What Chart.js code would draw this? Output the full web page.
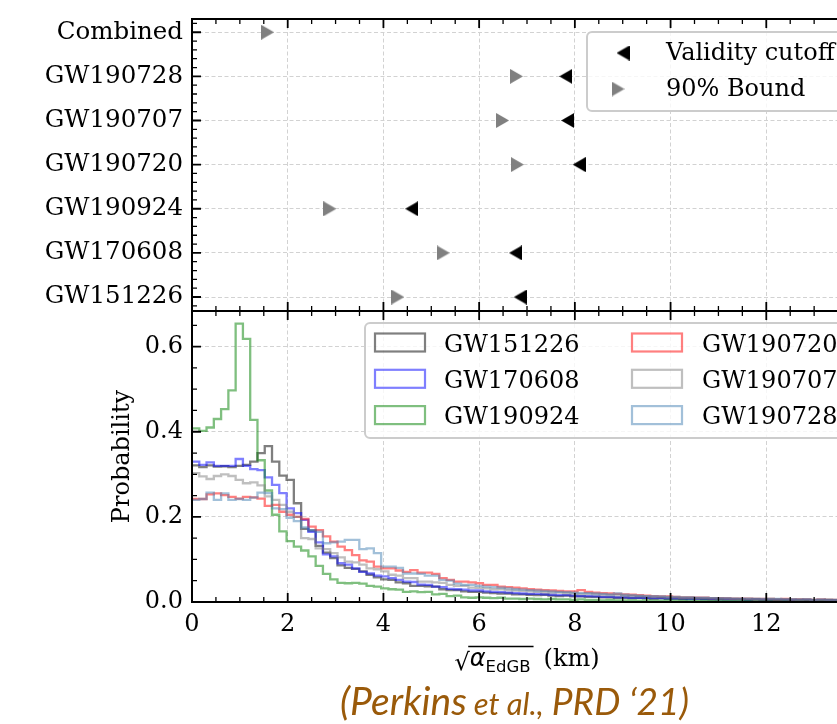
<!DOCTYPE html>
<html>
<head>
<meta charset="utf-8">
<script src="https://cdn.jsdelivr.net/npm/chart.js@4.4.0/dist/chart.umd.min.js"></script>
<style>
  html, body { margin: 0; padding: 0; overflow: hidden; background: #fff; }
  #wrap { position: relative; width: 837px; height: 724px; overflow: hidden; }
  canvas { position: absolute; left: 0; }
  #top { top: 0; }
  #bottom { top: 300px; }
</style>
</head>
<body>
<div id="wrap">
  <canvas id="top" width="900" height="320"></canvas>
  <canvas id="bottom" width="900" height="424"></canvas>
</div>
<script>
// events, bottom to top in the upper panel
const events = ['GW151226', 'GW170608', 'GW190924', 'GW190720', 'GW190707', 'GW190728', 'Combined'];
const validityCutoff = [6.86, 6.76, 4.59, 8.09, 7.85, 7.81, null];
const bound90 = [4.30, 5.25, 2.88, 6.80, 6.49, 6.78, 1.58];

const xTicks = [0, 2, 4, 6, 8, 10, 12, 14];
const probTicks = [0, 0.2, 0.4, 0.6];

// histogram bins (width in km), values per bin
const binWidth = 0.152;
const histNames = ['GW151226', 'GW170608', 'GW190924', 'GW190720', 'GW190707', 'GW190728'];
const histColors = ['rgba(0,0,0,0.5)', 'rgba(0,0,255,0.5)', 'rgba(0,128,0,0.5)',
                    'rgba(255,0,0,0.5)', 'rgba(128,128,128,0.5)', 'rgba(70,130,180,0.5)'];

const gw151226 = [
  0.321, 0.317, 0.321, 0.318, 0.319, 0.317, 0.320, 0.322, 0.330, 0.350,
  0.366, 0.330, 0.297, 0.287, 0.232, 0.172, 0.168, 0.132, 0.116, 0.103,
  0.086, 0.080, 0.078, 0.072, 0.064, 0.058, 0.053, 0.052, 0.046, 0.044,
  0.038, 0.038, 0.037, 0.036, 0.030, 0.028, 0.028, 0.025, 0.024, 0.024,
  0.022, 0.021, 0.020, 0.020, 0.018, 0.018, 0.017, 0.016, 0.017, 0.015,
  0.014, 0.015, 0.013, 0.013, 0.012, 0.012, 0.011, 0.011, 0.010, 0.010,
  0.009, 0.010, 0.009, 0.008, 0.009, 0.008, 0.008, 0.007, 0.008, 0.007,
  0.007, 0.006, 0.007, 0.006, 0.006, 0.006, 0.005, 0.006, 0.005, 0.005,
  0.005, 0.005, 0.004, 0.005, 0.004, 0.004, 0.004, 0.005, 0.004, 0.004, 0.003, 0.004
];
const gw170608 = [
  0.330, 0.322, 0.328, 0.320, 0.320, 0.320, 0.336, 0.320, 0.312, 0.310,
  0.293, 0.275, 0.256, 0.220, 0.209, 0.193, 0.165, 0.140, 0.112, 0.107,
  0.091, 0.088, 0.079, 0.071, 0.067, 0.062, 0.060, 0.056, 0.052, 0.048,
  0.047, 0.041, 0.040, 0.036, 0.035, 0.031, 0.030, 0.029, 0.027, 0.027,
  0.025, 0.024, 0.023, 0.022, 0.021, 0.020, 0.019, 0.019, 0.018, 0.017,
  0.016, 0.016, 0.015, 0.014, 0.014, 0.013, 0.012, 0.012, 0.011, 0.011,
  0.010, 0.010, 0.010, 0.009, 0.009, 0.008, 0.008, 0.008, 0.007, 0.008,
  0.007, 0.007, 0.006, 0.006, 0.006, 0.006, 0.005, 0.006, 0.005, 0.005,
  0.005, 0.005, 0.005, 0.004, 0.005, 0.004, 0.004, 0.004, 0.004, 0.003, 0.004, 0.003
];
const gw190924 = [
  0.408, 0.402, 0.410, 0.430, 0.453, 0.497, 0.654, 0.618, 0.428, 0.333,
  0.262, 0.205, 0.166, 0.143, 0.130, 0.121, 0.107, 0.085, 0.066, 0.053,
  0.045, 0.044, 0.045, 0.043, 0.038, 0.036, 0.032, 0.030, 0.029, 0.024,
  0.025, 0.023, 0.024, 0.018, 0.019, 0.014, 0.015, 0.011, 0.010, 0.011,
  0.010, 0.009, 0.010, 0.008, 0.008, 0.007, 0.008, 0.007, 0.006, 0.007,
  0.006, 0.006, 0.005, 0.006, 0.005, 0.005, 0.004, 0.005, 0.004, 0.004,
  0.004, 0.003, 0.004, 0.003, 0.003, 0.004, 0.003, 0.003, 0.003, 0.002,
  0.003, 0.002, 0.003, 0.002, 0.002, 0.003, 0.002, 0.002, 0.002, 0.002,
  0.002, 0.002, 0.001, 0.002, 0.002, 0.001, 0.002, 0.001, 0.001, 0.002, 0.001, 0.001
];
const gw190720 = [
  0.242, 0.242, 0.253, 0.255, 0.251, 0.247, 0.243, 0.247, 0.246, 0.243,
  0.226, 0.228, 0.212, 0.205, 0.200, 0.195, 0.177, 0.169, 0.154, 0.142,
  0.130, 0.122, 0.110, 0.098, 0.095, 0.083, 0.079, 0.079, 0.074, 0.071,
  0.075, 0.069, 0.069, 0.066, 0.056, 0.052, 0.048, 0.048, 0.046, 0.044,
  0.040, 0.040, 0.036, 0.035, 0.034, 0.032, 0.030, 0.029, 0.028, 0.027,
  0.026, 0.025, 0.025, 0.028, 0.024, 0.022, 0.021, 0.020, 0.019, 0.018,
  0.017, 0.016, 0.015, 0.014, 0.013, 0.013, 0.012, 0.011, 0.011, 0.010,
  0.010, 0.009, 0.009, 0.009, 0.008, 0.008, 0.008, 0.007, 0.007, 0.007,
  0.006, 0.007, 0.006, 0.006, 0.006, 0.005, 0.006, 0.005, 0.005, 0.005, 0.004, 0.005
];
const gw190707 = [
  0.303, 0.295, 0.289, 0.296, 0.300, 0.296, 0.287, 0.279, 0.281, 0.274,
  0.248, 0.240, 0.228, 0.212, 0.200, 0.150, 0.148, 0.126, 0.124, 0.115,
  0.105, 0.095, 0.093, 0.088, 0.079, 0.077, 0.072, 0.064, 0.062, 0.056,
  0.056, 0.048, 0.048, 0.046, 0.045, 0.040, 0.038, 0.038, 0.034, 0.033,
  0.032, 0.030, 0.030, 0.028, 0.027, 0.026, 0.025, 0.024, 0.023, 0.022,
  0.022, 0.021, 0.020, 0.019, 0.019, 0.018, 0.017, 0.016, 0.016, 0.015,
  0.014, 0.014, 0.013, 0.012, 0.012, 0.011, 0.011, 0.010, 0.010, 0.009,
  0.009, 0.009, 0.008, 0.008, 0.008, 0.007, 0.007, 0.007, 0.006, 0.007,
  0.006, 0.006, 0.006, 0.005, 0.006, 0.005, 0.005, 0.005, 0.005, 0.004, 0.005, 0.004
];
const gw190728 = [
  0.240, 0.242, 0.257, 0.240, 0.255, 0.240, 0.242, 0.240, 0.245, 0.257,
  0.256, 0.220, 0.218, 0.198, 0.190, 0.175, 0.169, 0.165, 0.138, 0.140,
  0.142, 0.146, 0.146, 0.124, 0.126, 0.115, 0.083, 0.083, 0.080, 0.067,
  0.067, 0.066, 0.062, 0.062, 0.052, 0.050, 0.043, 0.040, 0.040, 0.038,
  0.036, 0.035, 0.034, 0.032, 0.030, 0.029, 0.028, 0.027, 0.026, 0.025,
  0.024, 0.023, 0.022, 0.021, 0.021, 0.020, 0.019, 0.018, 0.020, 0.017,
  0.016, 0.015, 0.014, 0.014, 0.013, 0.012, 0.012, 0.011, 0.011, 0.010,
  0.010, 0.009, 0.009, 0.009, 0.008, 0.008, 0.008, 0.007, 0.007, 0.007,
  0.007, 0.006, 0.006, 0.006, 0.006, 0.005, 0.006, 0.005, 0.005, 0.005, 0.005, 0.004
];
const histValues = [gw151226, gw170608, gw190924, gw190720, gw190707, gw190728];

Chart.defaults.font.family = '"DejaVu Serif"';
Chart.defaults.font.size = 24;
Chart.defaults.color = '#000';

const serif = '24px "DejaVu Serif"';
const gridColor = '#d2d2d2';

// matplotlib-like triangle markers
function triangle(dir, color) {
  const c = document.createElement('canvas');
  c.width = 13; c.height = 15;
  const g = c.getContext('2d');
  g.fillStyle = color;
  g.beginPath();
  if (dir === 'left') { g.moveTo(0, 7.5); g.lineTo(13, 0); g.lineTo(13, 15); }
  else { g.moveTo(13, 7.5); g.lineTo(0, 0); g.lineTo(0, 15); }
  g.closePath();
  g.fill();
  return c;
}
const leftTri = triangle('left', '#000');
const rightTri = triangle('right', '#808080');

function stepPoints(vals) {
  const pts = vals.map((v, i) => ({ x: i * binWidth, y: v }));
  pts.push({ x: vals.length * binWidth, y: vals[vals.length - 1] });
  return pts;
}

function steps(from, to, step, skip) {
  const out = [];
  for (let v = from; v <= to + 1e-9; v += step) {
    const r = Math.round(v * 1000) / 1000;
    if (!skip.some(s => Math.abs(s - r) < 1e-6)) out.push(r);
  }
  return out;
}

// keep the plot area where we put it (no label overflow padding)
function fixSize(w, h) {
  return s => {
    if (w !== null) s.width = w;
    if (h !== null) s.height = h;
    s.paddingTop = 0; s.paddingBottom = 0; s.paddingLeft = 0; s.paddingRight = 0;
  };
}

// frame, inward ticks, legend, extra texts
const decor = {
  id: 'decor',
  afterDraw(chart, args, o) {
    const { ctx, chartArea: a, scales: { x, y } } = chart;
    ctx.save();
    ctx.strokeStyle = '#000';
    const xt = (vals, len) => vals.forEach(v => {
      const p = x.getPixelForValue(v);
      ctx.moveTo(p, a.bottom); ctx.lineTo(p, a.bottom - len);
      ctx.moveTo(p, a.top); ctx.lineTo(p, a.top + len);
    });
    const yt = (vals, len) => vals.forEach(v => {
      const p = y.getPixelForValue(v);
      ctx.moveTo(a.left, p); ctx.lineTo(a.left + len, p);
      ctx.moveTo(a.right, p); ctx.lineTo(a.right - len, p);
    });
    ctx.lineWidth = 1.8;
    ctx.beginPath();
    xt(xTicks, 9);
    yt(o.yMajor, 9);
    ctx.stroke();
    ctx.lineWidth = 1.3;
    ctx.beginPath();
    xt(steps(0, 14, 0.5, xTicks), 5);
    yt(o.yMinor, 5);
    ctx.stroke();
    ctx.lineWidth = 2;
    ctx.strokeRect(a.left, a.top, a.right - a.left, a.bottom - a.top);

    // legend box
    const L = o.legend;
    ctx.fillStyle = 'rgba(255,255,255,0.8)';
    ctx.strokeStyle = '#cccccc';
    ctx.lineWidth = 2;
    ctx.beginPath();
    ctx.roundRect(L.x, L.y, L.w, L.h, 5);
    ctx.fill();
    ctx.stroke();
    ctx.font = serif;
    ctx.fillStyle = '#000';
    ctx.textBaseline = 'alphabetic';
    ctx.textAlign = 'left';
    L.items.forEach(it => {
      if (it.img) {
        ctx.drawImage(it.img, it.mx - it.img.width / 2, it.my - it.img.height / 2);
      } else {
        ctx.strokeStyle = it.color;
        ctx.lineWidth = 2.2;
        ctx.strokeRect(it.mx, it.my - 9, 50, 18);
      }
      ctx.fillStyle = '#000';
      ctx.fillText(it.text, it.tx, it.ty);
    });
    if (o.texts) o.texts(ctx, a);
    ctx.restore();
  }
};

// ---------- upper panel ----------
const topDatasets = [
  {
    label: 'Validity cutoff',
    data: events.map((e, i) => ({ x: validityCutoff[i], y: i })).filter(p => p.x !== null),
    pointStyle: leftTri, pointRadius: 8
  },
  {
    label: '90% Bound',
    data: events.map((e, i) => ({ x: bound90[i], y: i })),
    pointStyle: rightTri, pointRadius: 8
  }
];

new Chart(document.getElementById('top'), {
  type: 'scatter',
  data: { datasets: topDatasets },
  options: {
    responsive: false, animation: false, devicePixelRatio: 1,
    layout: { padding: { top: 19, right: 38, bottom: 9, left: 0 } },
    plugins: {
      legend: { display: false }, tooltip: { enabled: false },
      decor: {
        yMajor: [0, 1, 2, 3, 4, 5, 6],
        yMinor: steps(-0.2, 6.2, 0.2, [0, 1, 2, 3, 4, 5, 6]),
        legend: {
          x: 587, y: 32, w: 320, h: 79,
          items: [
            { img: leftTri, mx: 623, my: 53, text: 'Validity cutoff', tx: 666, ty: 60 },
            { img: rightTri, mx: 618, my: 89, text: '90% Bound', tx: 666, ty: 96 }
          ]
        }
      }
    },
    scales: {
      x: {
        type: 'linear', min: 0, max: 14,
        afterBuildTicks: s => { s.ticks = xTicks.map(v => ({ value: v })); },
        afterFit: fixSize(null, 0),
        ticks: { display: false },
        grid: { color: gridColor, lineWidth: 1, drawTicks: false },
        border: { display: false, dash: [4, 2.5] }
      },
      y: {
        type: 'linear', min: -0.317, max: 6.30,
        afterBuildTicks: s => { s.ticks = events.map((e, i) => ({ value: i })); },
        afterFit: fixSize(192, null),
        ticks: { padding: 9, font: { size: 24.5 }, callback: v => events[v] },
        grid: { color: gridColor, lineWidth: 1, drawTicks: false },
        border: { display: false, dash: [4, 2.5] }
      }
    }
  },
  plugins: [decor]
});

// ---------- lower panel ----------
const histDatasets = histNames.map((n, i) => ({
  label: n,
  data: stepPoints(histValues[i]),
  borderColor: histColors[i],
  borderWidth: 2.3,
  stepped: 'before',
  pointRadius: 0,
  fill: false,
  borderJoinStyle: 'miter',
  order: histNames.length - i
}));

function drawTexts(ctx, a) {
  ctx.fillStyle = '#000';
  // y title
  ctx.save();
  ctx.translate(128.5, (a.top + a.bottom) / 2);
  ctx.rotate(-Math.PI / 2);
  ctx.font = serif;
  ctx.textAlign = 'center';
  ctx.textBaseline = 'alphabetic';
  ctx.fillText('Probability', 0, 0);
  ctx.restore();

  // x title: sqrt(alpha_EdGB) (km)
  const base = a.bottom + 64;
  const fS = '24px "DejaVu Sans"', fA = 'oblique 24px "DejaVu Sans"';
  const fE = '16.5px "DejaVu Sans"';
  ctx.textAlign = 'left';
  ctx.textBaseline = 'alphabetic';
  ctx.font = fS; const wS = ctx.measureText('√').width;
  ctx.font = fA; const wA = ctx.measureText('α').width;
  ctx.font = fE; const wE = ctx.measureText('EdGB').width;
  ctx.font = serif; const wK = ctx.measureText('(km)').width;
  const total = wS + wA + wE + 3 + 10 + wK;
  let cx = (a.left + a.right) / 2 - total / 2;
  ctx.font = fS; ctx.fillText('√', cx, base + 4);
  const barStart = cx + wS - 1.5;
  cx += wS;
  ctx.font = fA; ctx.fillText('α', cx, base);
  cx += wA;
  ctx.font = fE; ctx.fillText('EdGB', cx, base + 6);
  cx += wE + 3;
  ctx.strokeStyle = '#000';
  ctx.lineWidth = 1.4;
  ctx.beginPath();
  ctx.moveTo(barStart, base - 19.5);
  ctx.lineTo(cx, base - 19.5);
  ctx.stroke();
  cx += 10;
  ctx.font = serif; ctx.fillText('(km)', cx, base);

  // citation
  const cb = a.bottom + 113;
  ctx.fillStyle = '#9a5a0a';
  let px = 340;
  ctx.font = 'italic 39px Lato';
  ctx.fillText('(Perkins', px, cb);
  px += ctx.measureText('(Perkins').width + 7;
  ctx.font = 'italic 31px Lato';
  ctx.fillText('et al.,', px, cb);
  px += ctx.measureText('et al.,').width + 8;
  ctx.font = 'italic 37px Lato';
  ctx.fillText('PRD ‘21)', px, cb);
}

new Chart(document.getElementById('bottom'), {
  type: 'line',
  data: { datasets: histDatasets },
  options: {
    responsive: false, animation: false, devicePixelRatio: 1,
    layout: { padding: { top: 11, right: 38, bottom: 0, left: 0 } },
    plugins: {
      legend: { display: false }, tooltip: { enabled: false },
      decor: {
        yMajor: probTicks,
        yMinor: steps(0.05, 0.65, 0.05, probTicks),
        legend: {
          x: 365, y: 23, w: 540, h: 115,
          items: histNames.map((n, i) => {
            const col = Math.floor(i / 3), row = i % 3;
            return {
              color: histColors[i], text: n,
              mx: col ? 632 : 375, my: 42.5 + row * 36.3,
              tx: col ? 702 : 444, ty: 51.5 + row * 36.3
            };
          })
        },
        texts: drawTexts
      }
    },
    scales: {
      x: {
        type: 'linear', min: 0, max: 14,
        afterBuildTicks: s => { s.ticks = xTicks.map(v => ({ value: v })); },
        afterFit: fixSize(null, 122),
        ticks: { padding: 8, maxRotation: 0 },
        grid: { color: gridColor, lineWidth: 1, drawTicks: false },
        border: { display: false, dash: [4, 2.5] }
      },
      y: {
        type: 'linear', min: 0, max: 0.6837,
        afterBuildTicks: s => { s.ticks = probTicks.map(v => ({ value: v })); },
        afterFit: fixSize(192, null),
        ticks: { padding: 9, callback: v => v.toFixed(1) },
        grid: { color: gridColor, lineWidth: 1, drawTicks: false },
        border: { display: false, dash: [4, 2.5] }
      }
    }
  },
  plugins: [decor]
});
</script>
</body>
</html>
